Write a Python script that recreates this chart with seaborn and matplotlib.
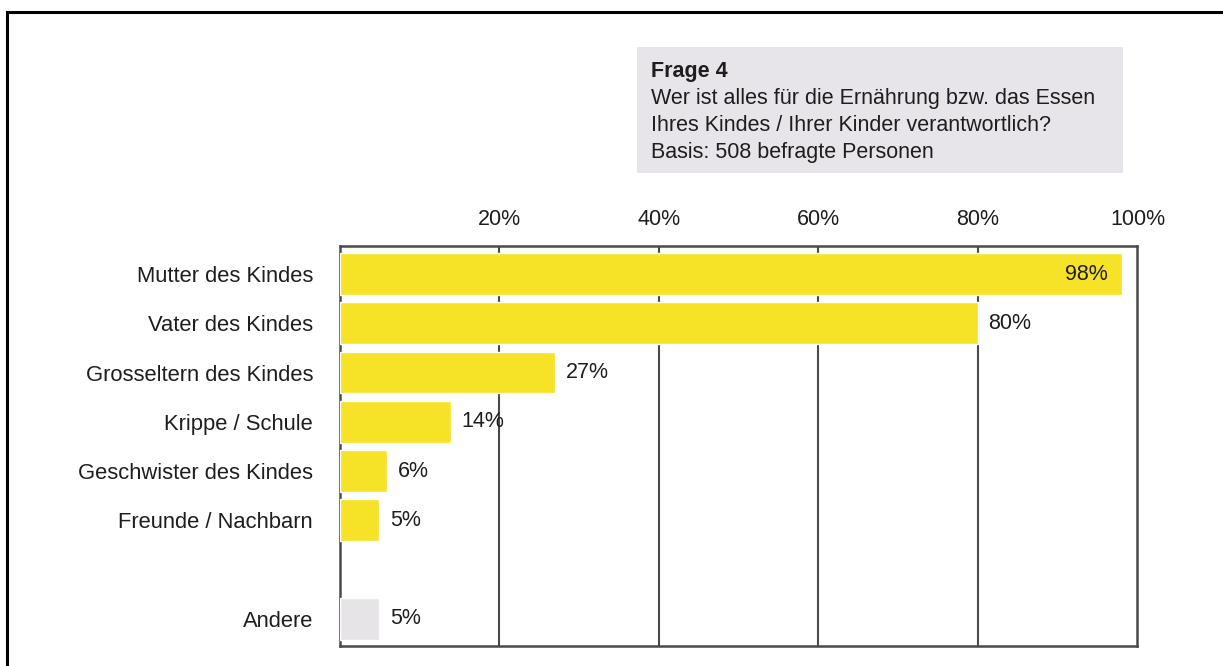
import matplotlib
matplotlib.use("Agg")
import matplotlib.pyplot as plt
from matplotlib.patches import Rectangle
import seaborn as sns
import pandas as pd
import numpy as np

categories = ["Mutter des Kindes", "Vater des Kindes", "Grosseltern des Kindes",
              "Krippe / Schule", "Geschwister des Kindes", "Freunde / Nachbarn",
              " ", "Andere"]
values = [98, 80, 27, 14, 6, 5, np.nan, 5]
value_labels = ["98%", "80%", "27%", "14%", "6%", "5%", "", "5%"]
x_ticks = [20, 40, 60, 80, 100]
x_tick_labels = ["20%", "40%", "60%", "80%", "100%"]
title_lines = ["Frage 4",
               "Wer ist alles für die Ernährung bzw. das Essen",
               "Ihres Kindes / Ihrer Kinder verantwortlich?",
               "Basis: 508 befragte Personen"]

YELLOW = "#F6E327"
GREY_BAR = "#E6E4E7"
TEXT = "#1e1e1e"
LINE = "#4a4a4a"

sns.set_theme(style="white")
plt.rcParams["font.family"] = ["Liberation Sans", "DejaVu Sans"]

W, H = 1223, 666
fig = plt.figure(figsize=(W / 100, H / 100), dpi=100)

# axes in pixel coordinates
left, right, top, bottom = 339.5, 1137.5, 245.5, 646
ax = fig.add_axes([left / W, 1 - bottom / H, (right - left) / W, (bottom - top) / H])

df = pd.DataFrame({"cat": categories, "val": values})
palette = {c: (GREY_BAR if c == "Andere" else YELLOW) for c in categories}
sns.barplot(data=df, y="cat", x="val", hue="cat", order=categories, palette=palette,
            orient="h", width=0.85, legend=False, ax=ax, saturation=1, zorder=3)

ax.set_xlim(0, 100)
ax.set_ylim(7.553, -0.58)
ax.set_xlabel("")
ax.set_ylabel("")

# grid lines behind bars
for xv in x_ticks[:-1]:
    ax.axvline(xv, color=LINE, lw=1.5, zorder=1)

ax.xaxis.tick_top()
ax.set_xticks(x_ticks)
ax.set_xticklabels(x_tick_labels, fontsize=15.5, color=TEXT)
ax.tick_params(axis="x", length=0, pad=11)
ax.tick_params(axis="y", length=0, pad=19)
ax.set_yticks(range(len(categories)))
ax.set_yticklabels(categories, fontsize=15.8, color=TEXT)
for s in ax.spines.values():
    s.set_visible(True)
    s.set_color(LINE)
    s.set_linewidth(1.8)

for i, (v, lab) in enumerate(zip(values, value_labels)):
    if not lab:
        continue
    if v > 90:
        ax.annotate(lab, (v, i), xytext=(-10, 0), textcoords="offset points",
                    ha="right", va="center", fontsize=15.5, color=TEXT, zorder=5)
    else:
        ax.annotate(lab, (v, i), xytext=(7.5, 0), textcoords="offset points",
                    ha="left", va="center", fontsize=15.5, color=TEXT, zorder=5)

# question box
bx0, bx1, by0, by1 = 637, 1123, 47, 173
fig.patches.append(Rectangle((bx0 / W, 1 - by1 / H), (bx1 - bx0) / W, (by1 - by0) / H,
                             transform=fig.transFigure, facecolor="#E8E5EA",
                             edgecolor="none", zorder=0))
baselines = [77, 104, 131, 158]
for j, (line, yb) in enumerate(zip(title_lines, baselines)):
    fig.text(651 / W, 1 - yb / H, line, fontsize=15.5, color=TEXT, va="baseline", ha="left",
             fontweight="bold" if j == 0 else "normal")

# outer frame (cut off at the right and bottom)
fig.patches.append(Rectangle((7 / W, -0.1), 1.2, 1.1 - 12 / H, transform=fig.transFigure,
                             facecolor="none", edgecolor="black", lw=2.2, zorder=10))

fig.savefig("out.png", dpi=100)
